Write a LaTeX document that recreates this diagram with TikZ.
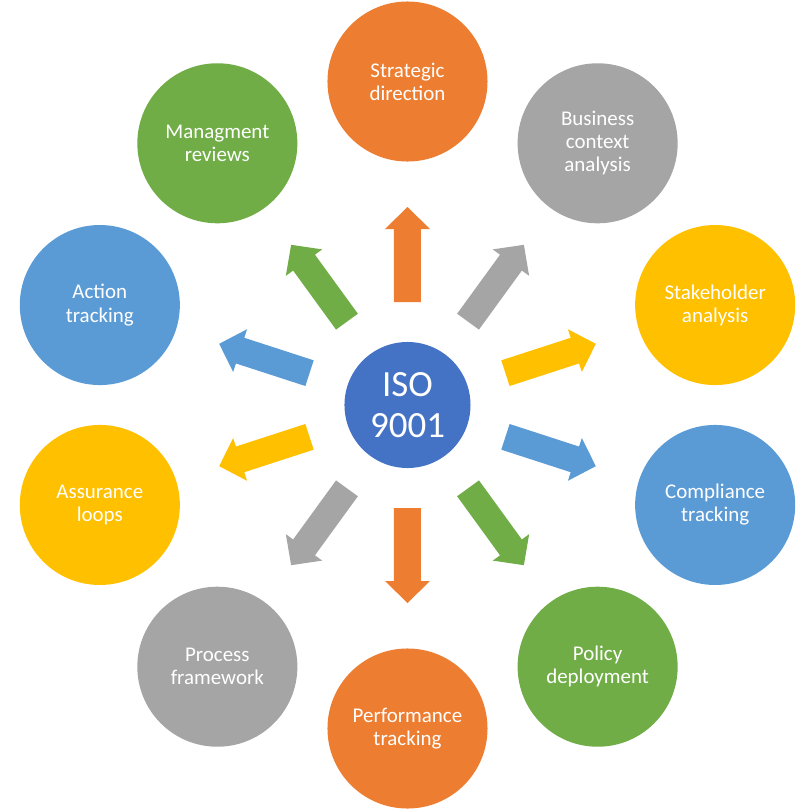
\documentclass[tikz,border=0pt]{standalone}
\usepackage{fontspec}
\setmainfont{Carlito}
\definecolor{isoorange}{HTML}{ED7D31}
\definecolor{isogray}{HTML}{A5A5A5}
\definecolor{isogold}{HTML}{FFC000}
\definecolor{isoblue}{HTML}{5B9BD5}
\definecolor{isogreen}{HTML}{70AD47}
\definecolor{isohub}{HTML}{4472C4}
\tikzset{
	topic/.style={circle,fill=#1,text=white,minimum size=4cm,inner sep=0pt,
		align=center,font=\fontsize{14.9}{16.4}\selectfont},
	hub/.style={circle,fill=isohub,text=white,minimum size=3.15cm,inner sep=0pt,
		align=center,font=\fontsize{26.3}{29.2}\selectfont}
}
\begin{document}
\begin{tikzpicture}[x=0.025cm,y=0.025cm]
\pgfmathsetmacro{\R}{323.5}
\useasboundingbox (-407.5,-407) rectangle (404.5,405);
\node[hub] (iso) at (0,0) {ISO\\9001};
\foreach \a/\c/\n/\t in {
	90/isoorange/strat/{Strategic\\direction},
	54/isogray/biz/{Business\\context\\analysis},
	18/isogold/stake/{Stakeholder\\analysis},
	-18/isoblue/compl/{Compliance\\tracking},
	-54/isogreen/policy/{Policy\\deployment},
	-90/isoorange/perf/{Performance\\tracking},
	-126/isogray/proc/{Process\\framework},
	-162/isogold/assur/{Assurance\\loops},
	162/isoblue/action/{Action\\tracking},
	126/isogreen/mgmt/{Managment\\reviews}}{
	\node[topic=\c] (\n) at (\a:\R) {\t};
	% block arrow from the hub towards the topic
	\fill[\c,shift={(iso.center)},rotate=\a]
		(103,-13.5)--(176,-13.5)--(176,-22.5)--(198,0)
		--(176,22.5)--(176,13.5)--(103,13.5)--cycle;
}
\end{tikzpicture}
\end{document}
